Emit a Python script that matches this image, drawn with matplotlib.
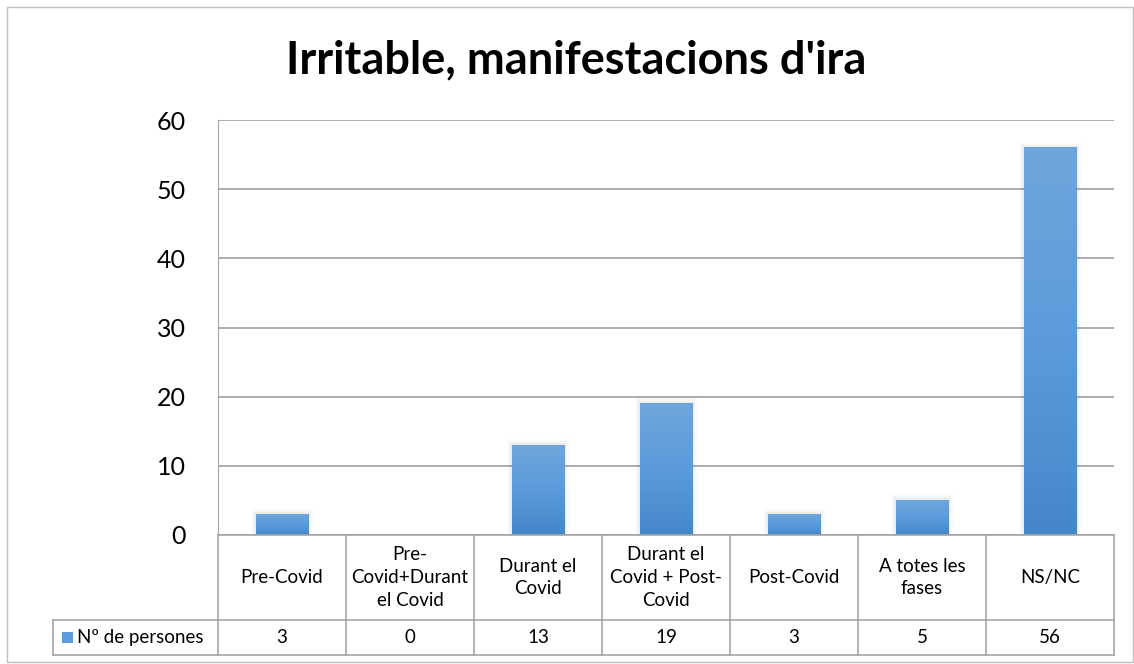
import matplotlib
matplotlib.use("Agg")
import matplotlib.pyplot as plt
import numpy as np
from matplotlib.colors import LinearSegmentedColormap
from matplotlib.patches import Rectangle

# ---------------------------------------------------------------- data

categories = ["Pre-Covid", "Pre-\nCovid+Durant\nel Covid", "Durant el\nCovid",
              "Durant el\nCovid + Post-\nCovid", "Post-Covid", "A totes les\nfases", "NS/NC"]
values = [3, 0, 13, 19, 3, 5, 56]
series_name = "Nº de persones"
title = "Irritable, manifestacions d'ira"
yticks = [0, 10, 20, 30, 40, 50, 60]

# ---------------------------------------------------------------- layout (pixels)

W, H = 1134, 664
PL, PR, PT, PB = 218, 1114, 120, 535      # plot area
ROW1, ROW2 = 620, 655                     # table row bottoms
LEG_L = 53

plt.rcParams["font.family"] = ["Lato", "DejaVu Sans"]

fig = plt.figure(figsize=(W / 100, H / 100), dpi=100)

def fx(px):
    return px / W

def fy(py):
    return 1 - py / H

ax = fig.add_axes([fx(PL), fy(PB), fx(PR) - fx(PL), fy(PT) - fy(PB)])
n = len(categories)
ax.set_xlim(-0.5, n - 0.5)
ax.set_ylim(0, 60)
ax.set_yticks(yticks)
ax.set_xticks([])
ax.tick_params(axis="y", length=0, labelsize=18, pad=23)
for s in ["top", "right", "bottom"]:
    ax.spines[s].set_visible(False)
ax.spines["left"].set_color("#A6A6A6")
ax.grid(axis="y", color="#A0A0A0", lw=1.2)
ax.set_axisbelow(True)

# bars with vertical gradient + soft shadow
cmap = LinearSegmentedColormap.from_list("bar", ["#4487C8", "#5B9BDB", "#6FA5DB"])
grad = np.linspace(0, 1, 256).reshape(-1, 1)
bw = 0.41
for i, v in enumerate(values):
    if v <= 0:
        continue
    for k, a in enumerate([0.035, 0.025, 0.015]):
        d = 0.012 * (k + 1)
        ax.add_patch(Rectangle((i - bw / 2 - d, 0), bw + 2 * d, v + d * 25,
                               color="black", alpha=a, lw=0, zorder=2))
    ax.imshow(grad, extent=(i - bw / 2, i + bw / 2, 0, v), origin="lower",
              cmap=cmap, aspect="auto", zorder=3)
ax.set_xlim(-0.5, n - 0.5)
ax.set_ylim(0, 60)

fig.text(fx(576), fy(60), title, ha="center", va="center", fontsize=32.5, fontweight="bold")

# ---------------------------------------------------------------- data table

lc = "#A6A6A6"
lw = 1.2
cw = (PR - PL) / n
fs = 13.5

def hline(y, x0, x1):
    fig.add_artist(plt.Line2D([fx(x0), fx(x1)], [fy(y), fy(y)], color=lc, lw=lw))

def vline(x, y0, y1):
    fig.add_artist(plt.Line2D([fx(x), fx(x)], [fy(y0), fy(y1)], color=lc, lw=lw))

hline(PB, PL, PR)
hline(ROW1, LEG_L, PR)
hline(ROW2, LEG_L, PR)
for i in range(n + 1):
    vline(PL + i * cw, PB, ROW2)
vline(LEG_L, ROW1, ROW2)

for i, (c, v) in enumerate(zip(categories, values)):
    cx = fx(PL + (i + 0.5) * cw)
    fig.text(cx, fy((PB + ROW1) / 2), c, ha="center", va="center",
             fontsize=fs, linespacing=1.4)
    fig.text(cx, fy((ROW1 + ROW2) / 2), str(v), ha="center", va="center", fontsize=fs)

fig.add_artist(Rectangle((fx(62), fy(643)), fx(11), fy(632) - fy(643),
                         color="#5B9BDB", lw=0))
fig.text(fx(77), fy((ROW1 + ROW2) / 2), series_name, ha="left", va="center", fontsize=fs)

# outer chart border
fig.add_artist(Rectangle((fx(7), fy(662)), fx(1133) - fx(7), fy(7) - fy(662),
                         fill=False, ec="#BFBFBF", lw=1))

fig.savefig("out.png", dpi=100)
